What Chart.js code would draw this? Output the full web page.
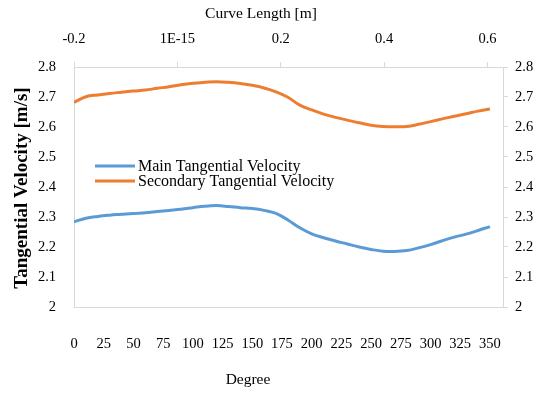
<!DOCTYPE html>
<html lang="en">
<head>
  <meta charset="UTF-8" />
  <title>Tangential Velocity</title>
  <script src="https://cdn.jsdelivr.net/npm/chart.js"></script>
  <style>
    html, body { margin: 0; padding: 0; background: #fff; }
    #wrap { width: 540px; height: 393px; }
  </style>
</head>
<body>
  <div id="wrap"><canvas id="chartCanvas" width="540" height="393"></canvas></div>

  <script>
    // velocity along the blade, sampled every 10 degrees
    const degrees = [0, 10, 20, 30, 40, 50, 60, 70, 80, 90, 100, 110, 120, 130, 140, 150, 160, 170,
      180, 190, 200, 210, 220, 230, 240, 250, 260, 270, 280, 290, 300, 310, 320, 330, 340, 350];
    const mainVelocity = [2.284, 2.296, 2.302, 2.306, 2.309, 2.312, 2.314, 2.318, 2.322, 2.326, 2.331, 2.336,
      2.338, 2.335, 2.331, 2.328, 2.322, 2.312, 2.290, 2.264, 2.244, 2.231, 2.220, 2.210, 2.200, 2.192,
      2.186, 2.185, 2.188, 2.197, 2.208, 2.221, 2.233, 2.243, 2.255, 2.268];
    const secondaryVelocity = [2.682, 2.701, 2.707, 2.712, 2.716, 2.720, 2.723, 2.729, 2.734, 2.741, 2.746, 2.749,
      2.751, 2.749, 2.745, 2.739, 2.730, 2.717, 2.699, 2.673, 2.657, 2.643, 2.632, 2.623, 2.614, 2.606,
      2.602, 2.601, 2.602, 2.609, 2.618, 2.627, 2.636, 2.644, 2.653, 2.660];

    const degreeTicks = [0, 25, 50, 75, 100, 125, 150, 175, 200, 225, 250, 275, 300, 325, 350];
    const lengthTicks = [-0.2, 1e-15, 0.2, 0.4, 0.6];
    const lengthTickLabels = ['-0.2', '1E-15', '0.2', '0.4', '0.6'];
    const velocityTicks = [2, 2.1, 2.2, 2.3, 2.4, 2.5, 2.6, 2.7, 2.8];

    const seriesNames = ['Main Tangential Velocity', 'Secondary Tangential Velocity'];
    const seriesColors = ['#5B9BD5', '#ED7D31'];

    const FONT = 'Liberation Serif, Times New Roman, serif';
    const AXIS = '#d9d9d9';

    function toPoints(values) {
      return values.map((v, i) => ({ x: degrees[i], y: v }));
    }

    // legend sits inside the plot, left side
    const innerLegend = {
      id: 'innerLegend',
      afterDraw(chart) {
        const { ctx, chartArea } = chart;
        ctx.save();
        ctx.font = '16px ' + FONT;
        ctx.textBaseline = 'middle';
        chart.data.datasets.forEach((ds, i) => {
          const y = chartArea.top + 99 + i * 15;
          const x = chartArea.left + 21;
          ctx.strokeStyle = ds.borderColor;
          ctx.lineWidth = 3;
          ctx.beginPath();
          ctx.moveTo(x, y);
          ctx.lineTo(x + 40, y);
          ctx.stroke();
          ctx.fillStyle = '#000';
          ctx.fillText(ds.label, x + 43, y + 1);
        });
        ctx.restore();
      }
    };

    // axis titles, placed by hand like the spreadsheet did
    const axisTitles = {
      id: 'axisTitles',
      afterDraw(chart) {
        const { ctx } = chart;
        ctx.save();
        ctx.fillStyle = '#000';
        ctx.textAlign = 'center';
        ctx.textBaseline = 'middle';
        ctx.font = '15.5px ' + FONT;
        ctx.fillText('Curve Length [m]', 261, 14);
        ctx.fillText('Degree', 248, 380);
        ctx.translate(22, 188);
        ctx.rotate(-Math.PI / 2);
        ctx.font = 'bold 19px ' + FONT;
        ctx.fillText('Tangential Velocity [m/s]', 0, 0);
        ctx.restore();
      }
    };

    const tickFont = { family: FONT, size: 14.5 };

    const ctx = document.getElementById('chartCanvas').getContext('2d');
    new Chart(ctx, {
      type: 'line',
      data: {
        datasets: [
          {
            label: seriesNames[0],
            data: toPoints(mainVelocity),
            borderColor: seriesColors[0],
            backgroundColor: seriesColors[0],
            borderWidth: 3,
            pointRadius: 0,
            tension: 0.4,
            xAxisID: 'x',
            yAxisID: 'y'
          },
          {
            label: seriesNames[1],
            data: toPoints(secondaryVelocity),
            borderColor: seriesColors[1],
            backgroundColor: seriesColors[1],
            borderWidth: 3,
            pointRadius: 0,
            tension: 0.4,
            xAxisID: 'x',
            yAxisID: 'y'
          }
        ]
      },
      options: {
        responsive: false,
        animation: false,
        layout: { padding: 0 },
        plugins: {
          legend: { display: false },
          tooltip: { enabled: false }
        },
        scales: {
          x: {
            type: 'linear',
            position: 'bottom',
            min: 0,
            max: 361,
            afterBuildTicks: s => { s.ticks = degreeTicks.map(v => ({ value: v })); },
            afterFit: s => { s.height = 86; },
            grid: { display: false, drawTicks: false },
            border: { display: true, color: AXIS, width: 1 },
            ticks: { color: '#000', font: tickFont, padding: 28, maxRotation: 0, autoSkip: false }
          },
          x2: {
            type: 'linear',
            position: 'top',
            min: -0.2,
            max: 0.63,
            afterBuildTicks: s => { s.ticks = lengthTicks.map(v => ({ value: v })); },
            afterFit: s => { s.height = 67; },
            grid: { display: true, drawOnChartArea: false, drawTicks: true, tickLength: 5, color: AXIS },
            border: { display: true, color: AXIS, width: 1 },
            ticks: {
              color: '#000', font: tickFont, padding: 14, maxRotation: 0, autoSkip: false,
              callback: (v, i) => lengthTickLabels[i]
            }
          },
          y: {
            position: 'left',
            min: 2,
            max: 2.8,
            afterBuildTicks: s => { s.ticks = velocityTicks.map(v => ({ value: v })); },
            afterFit: s => { s.width = 74; },
            grid: { display: false, drawTicks: false },
            border: { display: true, color: AXIS, width: 1 },
            ticks: {
              color: '#000', font: tickFont, padding: 18,
              callback: v => String(+v.toFixed(1))
            }
          },
          y2: {
            position: 'right',
            min: 2,
            max: 2.8,
            afterBuildTicks: s => { s.ticks = velocityTicks.map(v => ({ value: v })); },
            afterFit: s => { s.width = 37; },
            grid: { display: true, drawOnChartArea: false, drawTicks: true, tickLength: 5, color: AXIS },
            border: { display: true, color: AXIS, width: 1 },
            ticks: {
              color: '#000', font: tickFont, padding: 7,
              callback: v => String(+v.toFixed(1))
            }
          }
        }
      },
      plugins: [innerLegend, axisTitles]
    });
  </script>
</body>
</html>
